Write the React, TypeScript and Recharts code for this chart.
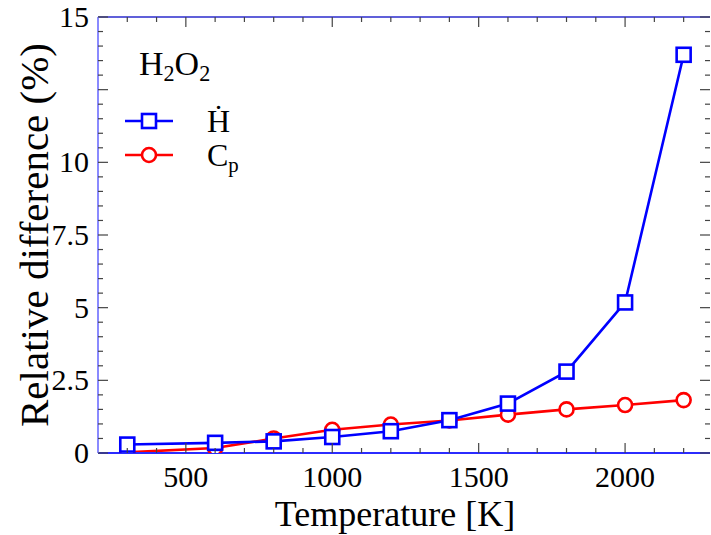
import { LineChart, Line, XAxis, YAxis, Legend, ReferenceLine } from 'recharts'

// Relative difference of H2O2 properties vs temperature
const TEMPERATURE = [300, 600, 800, 1000, 1200, 1400, 1600, 1800, 2000, 2200]
const H_DOT = [0.29, 0.35, 0.4, 0.55, 0.75, 1.13, 1.7, 2.8, 5.18, 13.7]
const CP = [0.02, 0.17, 0.5, 0.8, 0.98, 1.12, 1.32, 1.5, 1.65, 1.82]

const X_TICKS = [300, 400, 500, 600, 700, 800, 900, 1000, 1100, 1200, 1300, 1400, 1500, 1600, 1700, 1800, 1900, 2000, 2100, 2200]
const Y_TICKS = [
  0, 0.5, 1, 1.5, 2, 2.5, 3, 3.5, 4, 4.5, 5, 5.5, 6, 6.5, 7, 7.5, 8, 8.5, 9, 9.5, 10,
  10.5, 11, 11.5, 12, 12.5, 13, 13.5, 14, 14.5, 15,
]
const Y_LABELS = [0, 2.5, 5, 7.5, 10, 15]
const X_MAJOR = 500
const Y_MAJOR = 2.5
const X_DOMAIN = [200, 2290]
const Y_DOMAIN = [0, 15]

const WIDTH = 711
const HEIGHT = 535
const MARGIN = { top: 17, right: 1, left: 0, bottom: 0 }
const Y_AXIS_WIDTH = 98
const X_AXIS_HEIGHT = 82
const PLOT_TOP = MARGIN.top
const PLOT_RIGHT = WIDTH - MARGIN.right

const FONT = "'Liberation Serif', 'Times New Roman', serif"
const TICK_FONT = 30
const TICK_COLOR = '#444'
const BLUE = '#0000ff'
const RED = '#ff0000'

const data = TEMPERATURE.map((t, i) => ({ t, hdot: H_DOT[i], cp: CP[i] }))

function XTick({ x, y, payload }: any) {
  const v = payload.value
  const major = v % X_MAJOR === 0
  const len = major ? 10 : 5
  return (
    <g>
      <line x1={x} y1={y} x2={x} y2={y - len} stroke={TICK_COLOR} strokeWidth={1.2} />
      <line x1={x} y1={PLOT_TOP} x2={x} y2={PLOT_TOP + len} stroke={TICK_COLOR} strokeWidth={1.2} />
      {major && (
        <text x={x} y={y + 34} textAnchor="middle" fontSize={TICK_FONT} fontFamily={FONT} fill="#000">
          {v}
        </text>
      )}
    </g>
  )
}

function YTick({ x, y, payload }: any) {
  const v = payload.value
  const major = v % Y_MAJOR === 0
  const len = major ? 10 : 5
  return (
    <g>
      <line x1={x} y1={y} x2={x + len} y2={y} stroke={TICK_COLOR} strokeWidth={1.2} />
      <line x1={PLOT_RIGHT} y1={y} x2={PLOT_RIGHT - len} y2={y} stroke={TICK_COLOR} strokeWidth={1.2} />
      {Y_LABELS.includes(v) && (
        <text x={x - 9} y={y + 10} textAnchor="end" fontSize={TICK_FONT} fontFamily={FONT} fill="#000">
          {v}
        </text>
      )}
    </g>
  )
}

const renderSquare = (p: any) => {
  if (p.cx == null || p.cy == null) return <g key={p.index} />
  return (
    <rect key={p.index} x={p.cx - 7} y={p.cy - 7} width={14} height={14}
      fill="#fff" stroke={BLUE} strokeWidth={2.6} />
  )
}

const renderCircle = (p: any) => {
  if (p.cx == null || p.cy == null) return <g key={p.index} />
  return <circle key={p.index} cx={p.cx} cy={p.cy} r={7} fill="#fff" stroke={RED} strokeWidth={2.6} />
}

const sub = { fontSize: '0.65em', position: 'relative' as const, top: '0.28em', lineHeight: 0 }

function LegendBox() {
  const rows = [
    { color: BLUE, shape: 'square', label: <span>{'\u1E22'}</span> },
    { color: RED, shape: 'circle', label: <span>C<span style={sub}>p</span></span> },
  ]
  return (
    <div style={{ fontFamily: FONT, color: '#000' }}>
      <div style={{ fontSize: 34, lineHeight: '34px', marginLeft: 14, whiteSpace: 'nowrap' }}>
        H<span style={sub}>2</span>O<span style={sub}>2</span>
      </div>
      <div style={{ height: 23 }} />
      {rows.map((r, i) => (
        <div key={i} style={{ display: 'flex', alignItems: 'center', height: 34 }}>
          <svg width={50} height={34}>
            <line x1={0} y1={17} x2={48} y2={17} stroke={r.color} strokeWidth={2.6} />
            {r.shape === 'square' ? (
              <rect x={17} y={10} width={14} height={14} fill="#fff" stroke={r.color} strokeWidth={2.6} />
            ) : (
              <circle cx={24} cy={17} r={7} fill="#fff" stroke={r.color} strokeWidth={2.6} />
            )}
          </svg>
          <div style={{ marginLeft: 32, fontSize: 32, lineHeight: '34px', whiteSpace: 'nowrap' }}>{r.label}</div>
        </div>
      ))}
    </div>
  )
}

export default function App() {
  return (
    <div style={{ width: WIDTH, height: HEIGHT, background: '#fff' }}>
      <style>{'body{margin:0;overflow:hidden}'}</style>
      <LineChart width={WIDTH} height={HEIGHT} data={data} margin={MARGIN}>
        <XAxis
          dataKey="t"
          type="number"
          domain={X_DOMAIN}
          ticks={X_TICKS}
          interval={0}
          height={X_AXIS_HEIGHT}
          tickSize={0}
          tickMargin={0}
          tickLine={false}
          axisLine={{ stroke: '#2b2bff', strokeWidth: 2 }}
          tick={<XTick />}
          allowDataOverflow
          label={{
            value: 'Temperature [K]',
            position: 'insideBottom',
            offset: 9,
            dx: -9,
            style: { fontSize: 36, fontFamily: FONT, fill: '#000' },
          }}
        />
        <YAxis
          type="number"
          domain={Y_DOMAIN}
          ticks={Y_TICKS}
          interval={0}
          width={Y_AXIS_WIDTH}
          tickSize={0}
          tickMargin={0}
          tickLine={false}
          axisLine={{ stroke: '#8a8aff', strokeWidth: 2 }}
          tick={<YTick />}
          allowDataOverflow
          label={{
            value: 'Relative difference (%)',
            angle: -90,
            position: 'insideLeft',
            offset: 33,
            style: { fontSize: 41, fontFamily: FONT, fill: '#000', textAnchor: 'middle' },
          }}
        />
        <ReferenceLine y={15} stroke="#2b2bcc" strokeWidth={1.5} />
        <Legend
          layout="vertical"
          align="center"
          verticalAlign="middle"
          content={<LegendBox />}
          wrapperStyle={{ position: 'absolute', left: 125, top: 47, width: 'auto', height: 'auto' }}
        />
        <Line dataKey="cp" stroke={RED} strokeWidth={2.6} dot={renderCircle} isAnimationActive={false} />
        <Line dataKey="hdot" stroke={BLUE} strokeWidth={2.6} dot={renderSquare} isAnimationActive={false} />
      </LineChart>
    </div>
  )
}
